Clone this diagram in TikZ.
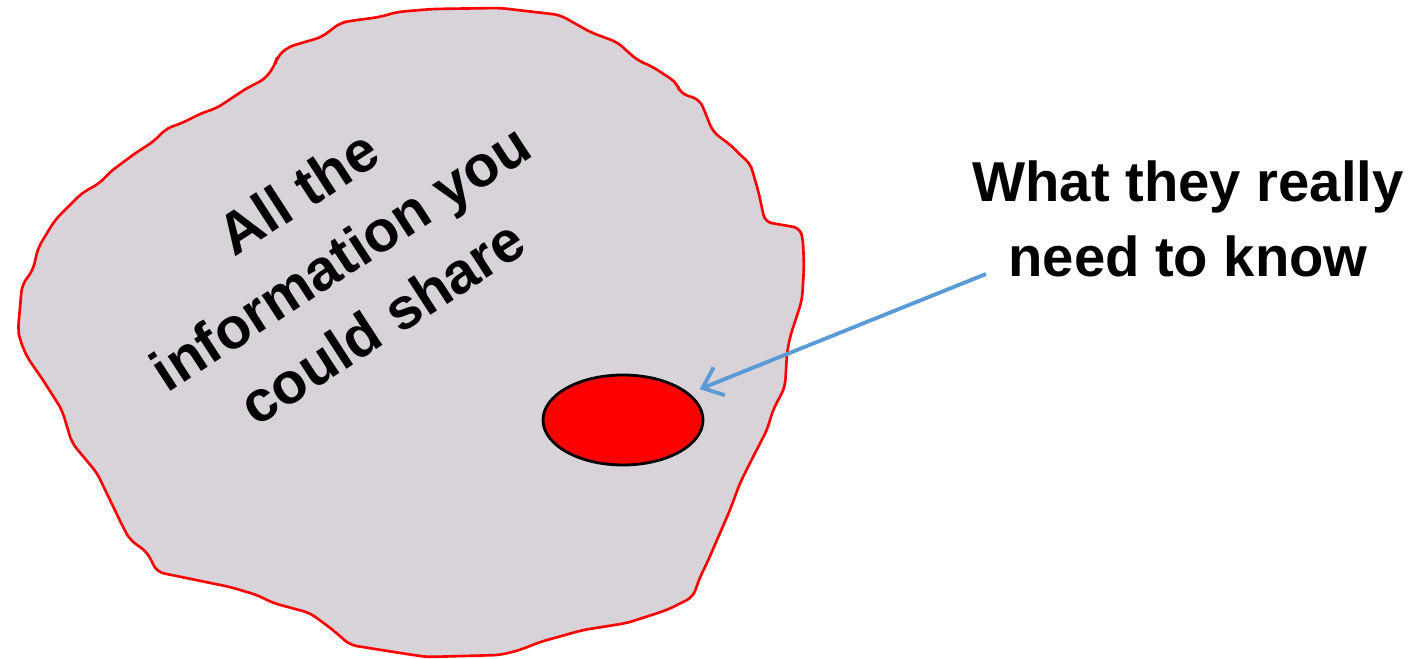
\documentclass[tikz,border=0pt]{standalone}
\usepackage{fontspec}
\setmainfont{Liberation Sans}
\usepackage{xcolor}
\usepackage{tikz}
\usetikzlibrary{arrows.meta,shapes.geometric}
\definecolor{dred}{HTML}{FF0000}
\definecolor{dmauve}{HTML}{D8D3D9}
\definecolor{dsky}{HTML}{5B9BD5}
\tikzset{
  dblob/.style={fill=dmauve, draw=dred, line width=0.75pt, line join=round,
                rounded corners=2pt},
  dspot/.style={ellipse, fill=dred, draw=black, line width=0.8pt,
                minimum width=1.6cm, minimum height=0.9cm, inner sep=0pt},
  dpoint/.style={-{Straight Barb[length=1.8mm,width=3mm]}, dsky, line width=1.1pt,
                 shorten >=1.1mm},
  dlbl/.style={font=\bfseries\fontsize{16}{21.3}\selectfont, align=center, inner sep=0pt},
  dtilt/.style={font=\bfseries\fontsize{16.5}{22}\selectfont, align=center, inner sep=0pt,
                rotate=33},
}
\begin{document}
\begin{tikzpicture}[x=1cm,y=1cm]
  \useasboundingbox (0,0) rectangle (14.24,6.59);

  % the whole pool of information
  \draw[dblob]
    (0.18,3.29) -- (0.22,3.74) -- (0.33,3.89) -- (0.38,4.11) -- (0.55,4.39)
    -- (0.82,4.66) -- (1.00,4.76) -- (1.10,4.87) -- (1.37,5.07) -- (1.53,5.17)
    -- (1.67,5.31) -- (1.80,5.35) -- (2.02,5.46) -- (2.17,5.51) -- (2.47,5.71)
    -- (2.65,5.80) -- (2.75,5.94) -- (2.77,6.02) -- (2.88,6.12) -- (3.22,6.22)
    -- (3.40,6.36) -- (3.50,6.38) -- (3.80,6.42) -- (3.97,6.47) -- (4.33,6.50)
    -- (5.00,6.51) -- (5.60,6.44) -- (5.90,6.27) -- (6.03,6.22) -- (6.17,6.17)
    -- (6.37,5.99) -- (6.53,5.92) -- (6.77,5.76) -- (6.80,5.66) -- (7.00,5.59)
    -- (7.13,5.27) -- (7.33,5.12) -- (7.40,5.04) -- (7.50,4.96) -- (7.53,4.86)
    -- (7.58,4.69) -- (7.65,4.37) -- (8.00,4.31) -- (8.03,4.19) -- (8.04,3.92)
    -- (8.02,3.59) -- (7.90,3.22) -- (7.87,3.06) -- (7.85,2.72) -- (7.73,2.49)
    -- (7.67,2.29) -- (7.53,2.02) -- (7.40,1.76) -- (7.30,1.49) -- (7.20,1.26)
    -- (7.07,0.96) -- (7.00,0.82) -- (6.93,0.62) -- (6.67,0.49) -- (6.27,0.36)
    -- (5.83,0.29) -- (5.40,0.17) -- (5.20,0.09) -- (5.00,0.04) -- (4.27,0.02)
    -- (4.00,0.06) -- (3.50,0.14) -- (3.33,0.29) -- (3.10,0.46) -- (2.73,0.56)
    -- (2.57,0.64) -- (2.30,0.72) -- (1.57,0.87) -- (1.47,1.07) -- (1.30,1.19)
    -- (1.23,1.32) -- (1.10,1.59) -- (0.97,1.86) -- (0.72,2.16) -- (0.62,2.49)
    -- (0.43,2.79) -- (0.27,3.02) -- (0.20,3.19) -- cycle;

  \node[dtilt] (all) at (3.40,4.02)
       {All the\\information you\\could share};

  % the part that matters
  \node[dspot] (need) at (6.23,2.39) {};

  \node[dlbl] (what) at (11.88,4.40) {What they really\\need to know};
  \coordinate (tail) at (9.86,3.85);
  \draw[dpoint] (tail) -- (need);

\end{tikzpicture}
\end{document}
